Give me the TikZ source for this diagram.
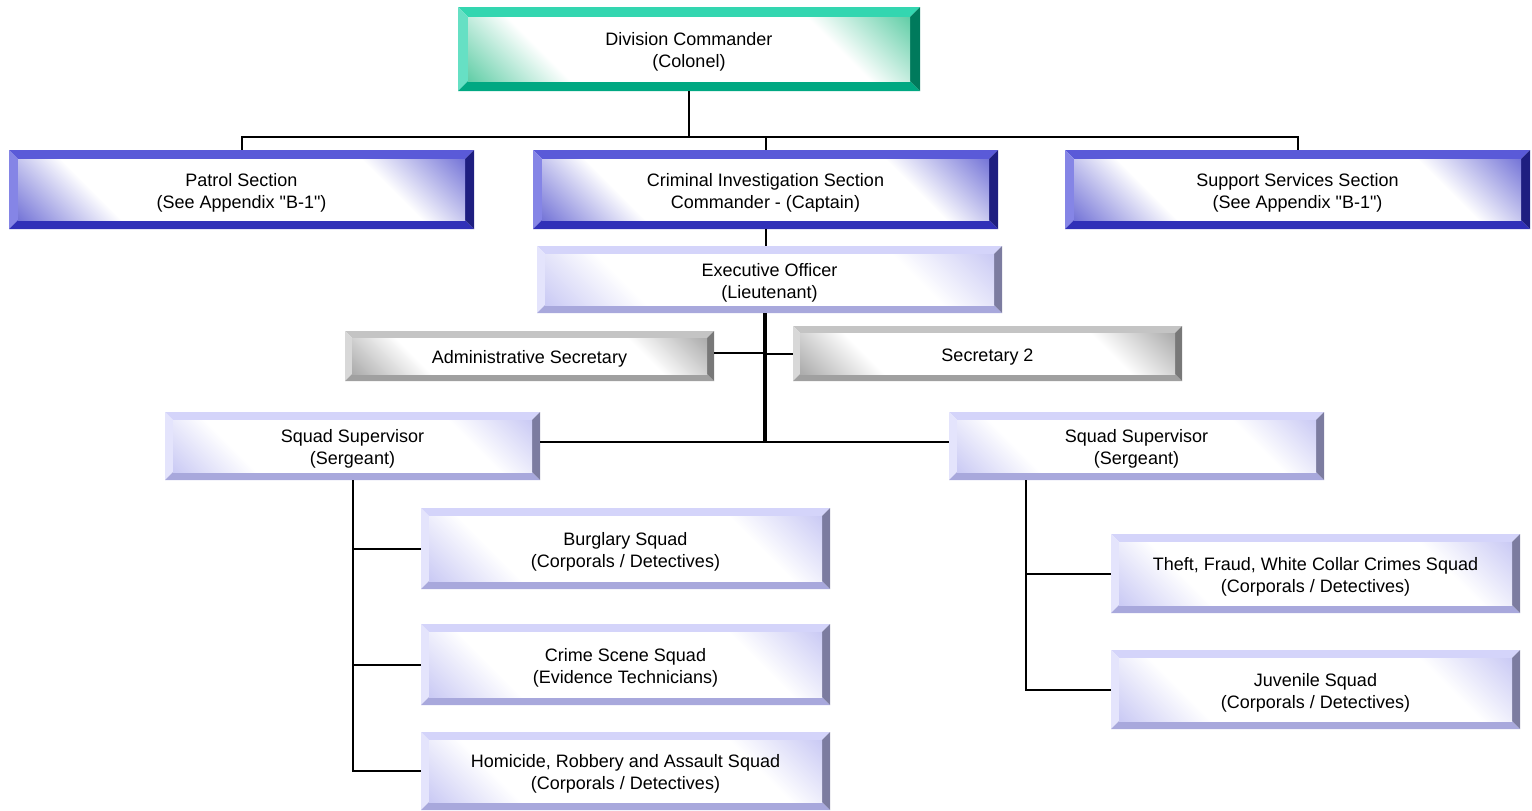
\documentclass[tikz,border=0pt]{standalone}
\usepackage{fontspec}
\newfontfamily\orgfont{Liberation Sans}
\usetikzlibrary{calc}

\definecolor{grT}{HTML}{33D6B0}\definecolor{grL}{HTML}{66E0C4}\definecolor{grB}{HTML}{00A882}\definecolor{grR}{HTML}{007A5C}\definecolor{grI}{HTML}{5CCCA4}
\definecolor{blT}{HTML}{5A5AD8}\definecolor{blL}{HTML}{8585E6}\definecolor{blB}{HTML}{3030B8}\definecolor{blR}{HTML}{1E1E80}\definecolor{blI}{HTML}{7070D6}
\definecolor{lvT}{HTML}{D4D4FA}\definecolor{lvL}{HTML}{E4E4FC}\definecolor{lvB}{HTML}{A8A8DC}\definecolor{lvR}{HTML}{7C7CA0}\definecolor{lvI}{HTML}{C8C8F4}
\definecolor{gyT}{HTML}{C4C4C4}\definecolor{gyL}{HTML}{D8D8D8}\definecolor{gyB}{HTML}{A0A0A0}\definecolor{gyR}{HTML}{787878}\definecolor{gyI}{HTML}{A8A8A8}

% inner glow: coloured corners, white across the middle
\colorlet{bvI}{white}
\pgfdeclarehorizontalshading[bvI]{bevelglow}{100bp}{color(0bp)=(bvI); color(14bp)=(bvI); color(29bp)=(white); color(71bp)=(white); color(86bp)=(bvI); color(100bp)=(bvI)}

\tikzset{
  bev/.store in=\bevw, bev=9,
  palette/.code={\colorlet{bvT}{#1T}\colorlet{bvL}{#1L}\colorlet{bvB}{#1B}\colorlet{bvR}{#1R}\colorlet{bvI}{#1I}},
  unit/.style={rectangle, fill=white, inner sep=0pt, align=center, text height=41pt,
    font=\orgfont\fontsize{18}{22}\selectfont,
    path picture={
      \coordinate (nw) at (path picture bounding box.north west);
      \coordinate (ne) at (path picture bounding box.north east);
      \coordinate (sw) at (path picture bounding box.south west);
      \coordinate (se) at (path picture bounding box.south east);
      \coordinate (inw) at ([shift={(\bevw pt,-\bevw pt)}]nw);
      \coordinate (ine) at ([shift={(-\bevw pt,-\bevw pt)}]ne);
      \coordinate (isw) at ([shift={(\bevw pt,\bevw pt)}]sw);
      \coordinate (ise) at ([shift={(-\bevw pt,\bevw pt)}]se);
      \fill[bvT] (nw) -- (ne) -- (ine) -- (inw) -- cycle;
      \fill[bvL] (nw) -- (inw) -- (isw) -- (sw) -- cycle;
      \fill[bvB] (sw) -- (isw) -- (ise) -- (se) -- cycle;
      \fill[bvR] (ne) -- (se) -- (ise) -- (ine) -- cycle;
      \shade[shading=bevelglow, shading angle=45] (isw) rectangle (ine);
    }},
  chief/.style={unit, palette=gr, bev=10},
  section/.style={unit, palette=bl, bev=9},
  officer/.style={unit, palette=lv, bev=8},
  clerk/.style={unit, palette=gy, bev=7, text height=19pt},
  link/.style={line width=2pt},
}

\begin{document}
\begin{tikzpicture}[x=1pt,y=-1pt]
  \useasboundingbox (0,0) rectangle (1532,811);

  \node[chief, minimum width=462pt, minimum height=84pt] (n_cmd) at (689,49) {Division Commander\\(Colonel)};
  \node[section, minimum width=465pt, minimum height=79pt] (n_patrol) at (241.5,189.5) {Patrol Section\\(See Appendix "B-1")};
  \node[section, minimum width=465pt, minimum height=79pt] (n_cis) at (765.5,189.5) {Criminal Investigation Section\\Commander - (Captain)};
  \node[section, minimum width=465pt, minimum height=79pt] (n_support) at (1297.5,189.5) {Support Services Section\\(See Appendix "B-1")};
  \node[officer, minimum width=465pt, minimum height=67pt] (n_exec) at (769.5,279.5) {Executive Officer\\(Lieutenant)};
  \node[clerk, minimum width=369pt, minimum height=50pt] (n_admin) at (529.5,356) {Administrative Secretary};
  \node[clerk, minimum width=389pt, minimum height=55pt] (n_sec) at (987.5,353.5) {Secretary 2};
  \node[officer, minimum width=375pt, minimum height=68pt] (n_supl) at (352.5,446) {Squad Supervisor\\(Sergeant)};
  \node[officer, minimum width=375pt, minimum height=68pt] (n_supr) at (1136.5,446) {Squad Supervisor\\(Sergeant)};
  \node[officer, minimum width=409pt, minimum height=81pt] (n_burg) at (625.5,548.5) {Burglary Squad\\(Corporals / Detectives)};
  \node[officer, minimum width=409pt, minimum height=81pt] (n_scene) at (625.5,664.5) {Crime Scene Squad\\(Evidence Technicians)};
  \node[officer, minimum width=409pt, minimum height=78pt] (n_homi) at (625.5,771) {Homicide, Robbery and Assault Squad\\(Corporals / Detectives)};
  \node[officer, minimum width=409pt, minimum height=79pt] (n_theft) at (1315.5,573.5) {Theft, Fraud, White Collar Crimes Squad\\(Corporals / Detectives)};
  \node[officer, minimum width=409pt, minimum height=79pt] (n_juv) at (1315.5,689.5) {Juvenile Squad\\(Corporals / Detectives)};

  \coordinate (bus) at (689,137);
  \coordinate (spine) at (765,442);
  \coordinate (rtrunk) at (1026,480);

  \draw[link] (n_cmd.south) -- (bus);
  \draw[link] (n_patrol.north) |- (bus) -| (n_support.north);
  \draw[link] (n_cis.north) -- (n_cis.north |- bus);
  \draw[link] (n_cis.south) -- (n_cis.south |- n_exec.north);
  \draw[line width=3.5pt] (n_exec.south -| spine) -- (spine);
  \draw[link] (n_admin.east |- 0,353) -- (spine |- 0,353);
  \draw[link] (n_sec.west) -- (n_sec.west -| spine);
  \draw[link] (spine -| n_supl.east) -- (spine) -- (spine -| n_supr.west);
  \draw[link] (n_supl.south) |- (n_homi.west);
  \draw[link] (n_supl.south |- n_burg.west) -- (n_burg.west);
  \draw[link] (n_supl.south |- n_scene.west) -- (n_scene.west);
  \draw[link] (rtrunk) |- (n_juv.west);
  \draw[link] (rtrunk |- n_theft.west) -- (n_theft.west);
\end{tikzpicture}
\end{document}
